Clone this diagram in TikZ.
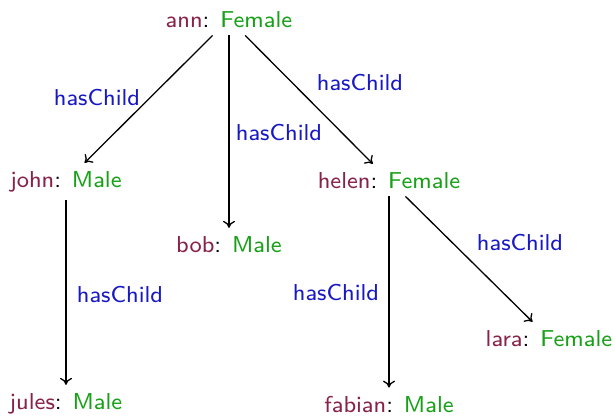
\documentclass[tikz,border=0pt]{standalone}
\usepackage{fontspec}
\newfontfamily\lmsE{lmsans8-regular.otf}
\usetikzlibrary{arrows.meta}
\definecolor{indcol}{RGB}{135,35,75}
\definecolor{clscol}{RGB}{25,160,25}
\definecolor{relcol}{RGB}{25,25,195}
\begin{document}
\begin{tikzpicture}[x=1pt,y=-1pt,
  ind/.style={inner sep=8pt, anchor=base, font=\lmsE\fontsize{23}{28}\selectfont},
  lbl/.style={inner sep=0pt, anchor=base, text=relcol, font=\lmsE\fontsize{23}{28}\selectfont},
  rel/.style={-{To[length=7pt,width=12pt]}, line width=1.3pt}]
\useasboundingbox (0,0) rectangle (615,416);
\node[ind] (ann)    at (229,27)  {\textcolor{indcol}{ann}: \textcolor{clscol}{Female}};
\node[ind] (john)   at (66,187)  {\textcolor{indcol}{john}: \textcolor{clscol}{Male}};
\node[ind] (bob)    at (229,252) {\textcolor{indcol}{bob}: \textcolor{clscol}{Male}};
\node[ind] (helen)  at (389,188) {\textcolor{indcol}{helen}: \textcolor{clscol}{Female}};
\node[ind] (jules)  at (66,409)  {\textcolor{indcol}{jules}: \textcolor{clscol}{Male}};
\node[ind] (fabian) at (389,412) {\textcolor{indcol}{fabian}: \textcolor{clscol}{Male}};
\node[ind] (lara)   at (549,346) {\textcolor{indcol}{lara}: \textcolor{clscol}{Female}};
\draw[rel] (ann) -- (john);
\draw[rel] (ann) -- (bob);
\draw[rel] (ann) -- (helen);
\draw[rel] (john) -- (jules);
\draw[rel] (helen) -- (fabian);
\draw[rel] (helen) -- (lara);
\node[lbl] (l1) at (97,105)  {hasChild};
\node[lbl] (l2) at (279,140) {hasChild};
\node[lbl] (l3) at (360,90)  {hasChild};
\node[lbl] (l4) at (120,302) {hasChild};
\node[lbl] (l5) at (336,300) {hasChild};
\node[lbl] (l6) at (520,250) {hasChild};
\end{tikzpicture}
\end{document}
